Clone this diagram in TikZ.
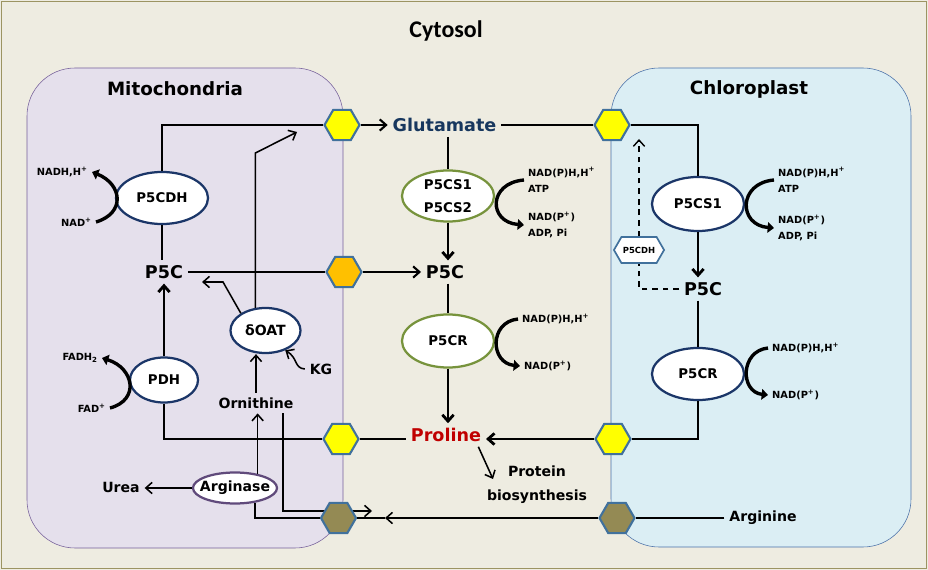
\documentclass[tikz,border=0pt]{standalone}
\usepackage{fontspec}
\setmainfont{DejaVu Sans}
\newfontfamily\cytfont{Carlito}
\usetikzlibrary{shapes.geometric,shapes.symbols,arrows.meta}
\definecolor{cytbg}{HTML}{EEECE1}
\definecolor{framecol}{HTML}{9C9462}
\definecolor{mitofill}{HTML}{E5E0EC}
\definecolor{mitoline}{HTML}{76609A}
\definecolor{chlofill}{HTML}{DBEEF4}
\definecolor{chloline}{HTML}{4A70A8}
\definecolor{hexblue}{HTML}{41719C}
\definecolor{hexyellow}{HTML}{FFFF00}
\definecolor{hexorange}{HTML}{FFC000}
\definecolor{hexolive}{HTML}{948A54}
\definecolor{navy}{HTML}{1B3668}
\definecolor{enzgreen}{HTML}{77933C}
\definecolor{argpurple}{HTML}{604A7B}
\definecolor{glublue}{HTML}{17375E}
\definecolor{prored}{HTML}{C00000}
\begin{document}
\begin{tikzpicture}[x=0.025cm, y=-0.025cm,
	>={Straight Barb[length=4.5pt,width=8pt]},
	title/.style={font=\bfseries\fontsize{13}{15}\selectfont},
	metab/.style={font=\bfseries\fontsize{12.5}{14}\selectfont},
	lbl/.style={font=\bfseries\fontsize{10}{17}\selectfont, align=center},
	cof/.style={font=\bfseries\fontsize{7}{11.5}\selectfont, align=left, inner sep=0pt, outer sep=3pt},
	enz/.style={ellipse, draw=navy, line width=1.6pt, fill=white, inner sep=0pt, minimum width=2.3cm, minimum height=1.3cm, font=\bfseries\fontsize{9.5}{16}\selectfont, align=center},
	hexa/.style={regular polygon, regular polygon sides=6, minimum size=0.875cm, inner sep=0pt, draw=hexblue, line width=1.5pt},
	mainline/.style={line width=2pt},
	midline/.style={line width=1.5pt},
	fineline/.style={line width=1.1pt},
	dashline/.style={line width=1pt, dash pattern=on 4pt off 3.5pt},
	cofarr/.style={line width=2.4pt, -{Triangle[length=4.5pt,width=7.5pt]}}]
	\useasboundingbox (0,0) rectangle (928,570);
	\fill[cytbg] (0,0) rectangle (928,570);
	\draw[framecol, line width=1pt] (1.5,1.5) rectangle (926.5,568.5);
	\draw[mitoline, fill=mitofill, rounded corners=1.2cm] (27,68) rectangle (343,548);
	\draw[chloline, fill=chlofill, rounded corners=1.2cm] (611,68) rectangle (911,547);

	\node[font=\cytfont\bfseries\fontsize{17}{20}\selectfont] (cytosol) at (446,31) {Cytosol};
	\node[title] (mitoT) at (175,89) {Mitochondria};
	\node[title] (chloT) at (749,89) {Chloroplast};

	\node[metab, text=glublue] (glu) at (444.5,125) {Glutamate};
	\node[metab] (p5cM) at (164,272) {P5C};
	\node[metab] (p5cCyt) at (445,272) {P5C};
	\node[metab] (p5cChl) at (703,289) {P5C};
	\node[metab, text=prored] (pro) at (446,435) {Proline};
	\node[lbl] (orn) at (256,403) {Ornithine};
	\node[lbl] (kg) at (321,369) {KG};
	\node[lbl] (urea) at (121,487) {Urea};
	\node[lbl] (arg) at (763,518) {Arginine};
	\node[lbl] (protein) at (537,485) {Protein\\biosynthesis};

	\node[enz] (p5cdhM) at (162,198) {P5CDH};
	\node[enz, minimum width=1.7cm, minimum height=1.125cm] (pdh) at (164,380) {PDH};
	\node[enz, minimum width=1.75cm, minimum height=1.125cm, font=\bfseries\fontsize{10}{12}\selectfont] (oat) at (265.5,330.5) {δOAT};
	\node[enz, draw=argpurple, minimum width=2.1cm, minimum height=0.775cm, label={[font=\bfseries\fontsize{10}{12}\selectfont]center:Arginase}] (arginase) at (235,488) {};
	\node[enz, draw=enzgreen, minimum height=1.275cm] (p5csCyt) at (448,196) {P5CS1\\P5CS2};
	\node[enz, draw=enzgreen, minimum height=1.325cm] (p5crCyt) at (448,341) {P5CR};
	\node[enz, minimum height=1.35cm] (p5csChl) at (698,204) {P5CS1};
	\node[enz] (p5crChl) at (698,374) {P5CR};

	\node[cof, anchor=east] (nadhM) at (92,172) {NADH,H\textsuperscript{+}};
	\node[cof, anchor=east] (nadM) at (96,222) {NAD\textsuperscript{+}};
	\node[cof, anchor=east] (fadh) at (102,358) {FADH\textsubscript{2}};
	\node[cof, anchor=east] (fad) at (110,408) {FAD\textsuperscript{+}};
	\node[cof, anchor=west] (inCS) at (524,180) {NAD(P)H,H\textsuperscript{+}\\ATP};
	\node[cof, anchor=west] (outCS) at (524,225) {NAD(P\textsuperscript{+})\\ADP, Pi};
	\node[cof, anchor=west] (inCR) at (518,319) {NAD(P)H,H\textsuperscript{+}};
	\node[cof, anchor=west] (outCR) at (520,366) {NAD(P\textsuperscript{+})};
	\node[cof, anchor=west] (inCSc) at (774,180) {NAD(P)H,H\textsuperscript{+}\\ATP};
	\node[cof, anchor=west] (outCSc) at (774,228) {NAD(P\textsuperscript{+})\\ADP, Pi};
	\node[cof, anchor=west] (inCRc) at (768,348) {NAD(P)H,H\textsuperscript{+}};
	\node[cof, anchor=west] (outCRc) at (768,395) {NAD(P\textsuperscript{+})};

	\coordinate (ornDown) at (283,511);
	\coordinate (ornEnd) at (372,511);
	\draw[fineline,->] (orn.south -| ornDown) -- (ornDown) -- (ornEnd);

	\node[hexa, fill=hexyellow] (hexGluM) at (342,125) {};
	\node[hexa, fill=hexyellow] (hexGluC) at (612,125) {};
	\node[hexa, fill=hexorange] (hexP5C) at (344,272) {};
	\node[hexa, fill=hexyellow] (hexProM) at (341,439) {};
	\node[hexa, fill=hexyellow] (hexProC) at (613,439) {};
	\node[hexa, fill=hexolive] (hexArgM) at (338.5,518) {};
	\node[hexa, fill=hexolive] (hexArgC) at (617,518) {};
	\node[signal, signal to=west and east, signal pointer angle=120, draw=hexblue, fill=white, line width=1.2pt, minimum width=1.25cm, minimum height=0.65cm, inner sep=1pt, font=\bfseries\fontsize{6}{7}\selectfont] (hexP5CDH) at (639,250) {P5CDH};

	\draw[mainline] (hexGluM.west) -| (p5cdhM.north);
	\draw[mainline] (p5cdhM.south) -- (p5cdhM.south |- p5cM.north);
	\draw[mainline,->] (pdh.north) -- (pdh.north |- p5cM.south);
	\draw[mainline] (hexProM.west) -| (pdh.south);
	\draw[midline] (p5cM.east) -- (hexP5C.west);
	\draw[midline,->] (hexP5C.east) -- (p5cCyt.west);
	\draw[midline,->] (hexGluM.east) -- (glu.west);
	\draw[mainline] (glu.east) -- (hexGluC.west);
	\draw[mainline] (hexGluC.east) -| (p5csChl.north);
	\draw[mainline] (p5csCyt.north |- glu.south) -- (p5csCyt.north);
	\draw[mainline,->] (p5csCyt.south) -- (p5csCyt.south |- p5cCyt.north);
	\draw[mainline] (p5crCyt.north |- p5cCyt.south) -- (p5crCyt.north);
	\draw[mainline,->] (p5crCyt.south) -- (p5crCyt.south |- pro.north);
	\draw[mainline] (hexProM.east) -- (hexProM.east -| pro.west);
	\draw[mainline,->] (hexProC.west) -- (hexProC.west -| pro.east);
	\draw[mainline] (hexProC.east) -| (p5crChl.south);
	\draw[mainline,->] (p5csChl.south) -- (p5csChl.south |- p5cChl.north);
	\draw[mainline] (p5crChl.north |- p5cChl.south) -- (p5crChl.north);

	\coordinate (chlUp) at (639,139);
	\draw[dashline] (p5cChl.west) -| (hexP5CDH.south);
	\draw[dashline,->] (hexP5CDH.north) -- (chlUp);

	\coordinate (oatBend) at (256,153);
	\coordinate (oatOut) at (297,132);
	\coordinate (oatKink) at (223,282);
	\coordinate (oatP5C) at (202,282);
	\draw[fineline,->] (oat.114) -- (oat.114 |- oatBend) -- (oatOut);
	\draw[fineline,->] (oat.145) -- (oatKink) -- (oatP5C);
	\draw[fineline,->] (kg.west) .. controls +(-11,-1) and +(13,8) .. (oat.-45);
	\draw[fineline,->] (orn.north) -- (orn.north |- oat.south);
	\draw[fineline,->] (arginase.32) -- (arginase.32 |- orn.south);
	\draw[fineline,->] (arginase.west) -- (arginase.west -| urea.east);
	\draw[fineline] (arginase.-36) -- (arginase.-36 |- hexArgM.west) -- (hexArgM.west);
	\coordinate (argTip) at (385,518);
	\draw[fineline] (hexArgM.east) -- (argTip);
	\draw[fineline,->] (hexArgC.west) -- (argTip);
	\draw[fineline] (arg.west) -- (hexArgC.east);
	\coordinate (protArr) at (493,479);
	\draw[fineline,->] (pro.-20) -- (protArr);

	\draw[cofarr] (nadM.east) .. controls +(30,-9) and +(30,12) .. (nadhM.east);
	\draw[cofarr] (fad.east) .. controls +(30,-8) and +(32,10) .. (fadh.east);
	\draw[cofarr] (inCS.west) .. controls +(-36,3) and +(-36,-3) .. (outCS.west);
	\draw[cofarr] (inCR.west) .. controls +(-29,3) and +(-30,-3) .. (outCR.west);
	\draw[cofarr] (inCSc.west) .. controls +(-36,3) and +(-36,-3) .. (outCSc.west);
	\draw[cofarr] (inCRc.west) .. controls +(-28,3) and +(-28,-3) .. (outCRc.west);
\end{tikzpicture}
\end{document}
